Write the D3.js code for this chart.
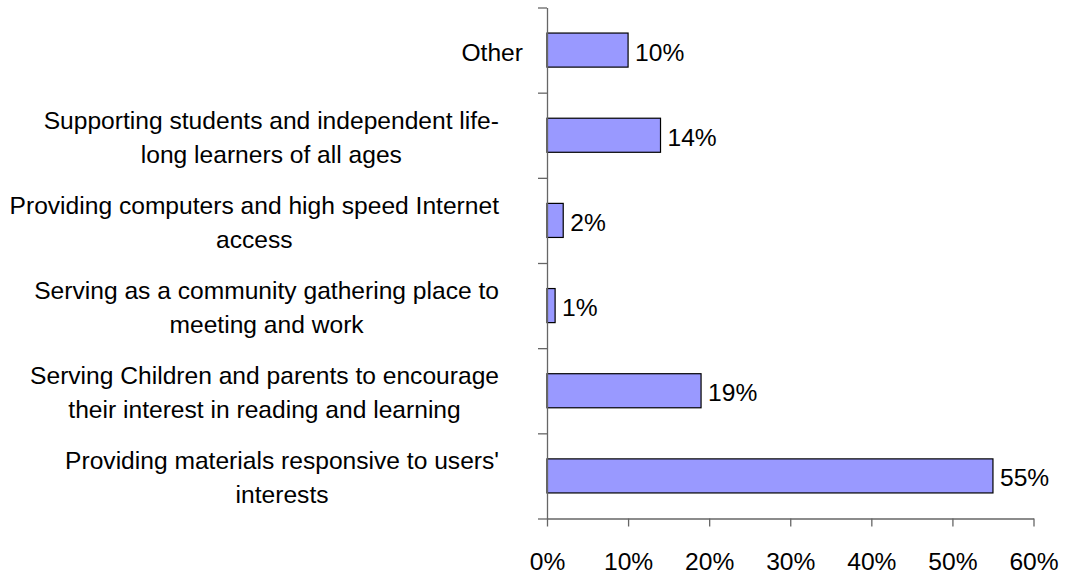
<!DOCTYPE html>
<html>
<head>
<meta charset="utf-8">
<script src="https://cdn.jsdelivr.net/npm/d3@7"></script>
<style>
  html, body { margin: 0; padding: 0; background: #fff; }
  svg { display: block; }
  text { font-family: "Liberation Sans", Arial, Helvetica, sans-serif; fill: #000; }
</style>
</head>
<body>
<svg id="chart" width="1073" height="573"></svg>
<script>
// Categories, top to bottom, with the line breaks used in the axis labels
const categories = [
  "Other",
  "Supporting students and independent life-long learners of all ages",
  "Providing computers and high speed Internet access",
  "Serving as a community gathering place to meeting and work",
  "Serving Children and parents to encourage their interest in reading and learning",
  "Providing materials responsive to users' interests"
];
const categoryLines = [
  ["Other"],
  ["Supporting students and independent life-", "long learners of all ages"],
  ["Providing computers and high speed Internet", "access"],
  ["Serving as a community gathering place to", "meeting and work"],
  ["Serving Children and parents to encourage", "their interest in reading and learning"],
  ["Providing materials responsive to users'", "interests"]
];
// Share of responses, in percent
const values = [10, 14, 2, 1, 19, 55];
const xTicks = [0, 10, 20, 30, 40, 50, 60];

const svg = d3.select("#chart");
const plot = { left: 547, right: 1033.5, top: 7.5, bottom: 518.5 };
const fontSize = 24.6;

const x = d3.scaleLinear().domain([0, 60]).range([plot.left, plot.right]);
const y = d3.scaleBand()
  .domain(categories)
  .range([plot.top, plot.bottom])
  .paddingInner(0.6)
  .paddingOuter(0.3);
// Boundaries between categories, for the tick marks on the vertical axis
const yEdge = d3.scaleLinear().domain([0, categories.length]).range([plot.top, plot.bottom]);

const axisColor = "#666666";

// Bars
svg.append("g")
  .selectAll("rect")
  .data(categories)
  .join("rect")
  .attr("x", x(0))
  .attr("y", d => y(d))
  .attr("width", (d, i) => x(values[i]) - x(0))
  .attr("height", y.bandwidth())
  .attr("fill", "#9999ff")
  .attr("stroke", "#000")
  .attr("stroke-width", 1.2);

// Vertical axis with ticks at the category boundaries
const yAxis = svg.append("g")
  .attr("transform", `translate(${plot.left},0)`)
  .call(d3.axisLeft(yEdge)
    .tickValues(d3.range(categories.length + 1))
    .tickFormat("")
    .tickSize(9)
    .tickSizeOuter(0));
yAxis.selectAll("path, line").attr("stroke", axisColor).attr("stroke-width", 1.3);

// Horizontal axis
const xAxis = svg.append("g")
  .attr("transform", `translate(0,${plot.bottom})`)
  .call(d3.axisBottom(x)
    .tickValues(xTicks)
    .tickFormat(d => d + "%")
    .tickSize(8)
    .tickSizeOuter(0));
xAxis.selectAll("path, line").attr("stroke", axisColor).attr("stroke-width", 1.3);
xAxis.selectAll("text")
  .attr("y", 51)
  .attr("dy", 0)
  .attr("font-size", fontSize)
  .attr("font-family", "'Liberation Sans', Arial, sans-serif")
  .attr("fill", "#000");

// Category labels: wrapped blocks are centred on their widest line
const lineGap = 34;
const labels = svg.append("g").attr("font-size", fontSize);
categories.forEach((c, i) => {
  const lines = categoryLines[i];
  const cy = y(c) + y.bandwidth() / 2;
  const g = labels.append("g");
  const texts = lines.map((ln, j) => g.append("text")
    .attr("text-anchor", "middle")
    .attr("y", cy + 10.5 + (j - (lines.length - 1) / 2) * lineGap)
    .text(ln));
  const maxW = d3.max(texts, t => t.node().getComputedTextLength());
  const rightEdge = lines.length > 1 ? plot.left - 48 : plot.left - 24;
  texts.forEach(t => t.attr("x", rightEdge - maxW / 2));
});

// Value labels at the end of each bar
svg.append("g")
  .attr("font-size", fontSize)
  .selectAll("text")
  .data(categories)
  .join("text")
  .attr("x", (d, i) => x(values[i]) + 7)
  .attr("y", d => y(d) + y.bandwidth() / 2 + 10.5)
  .text((d, i) => values[i] + "%");
</script>
</body>
</html>
